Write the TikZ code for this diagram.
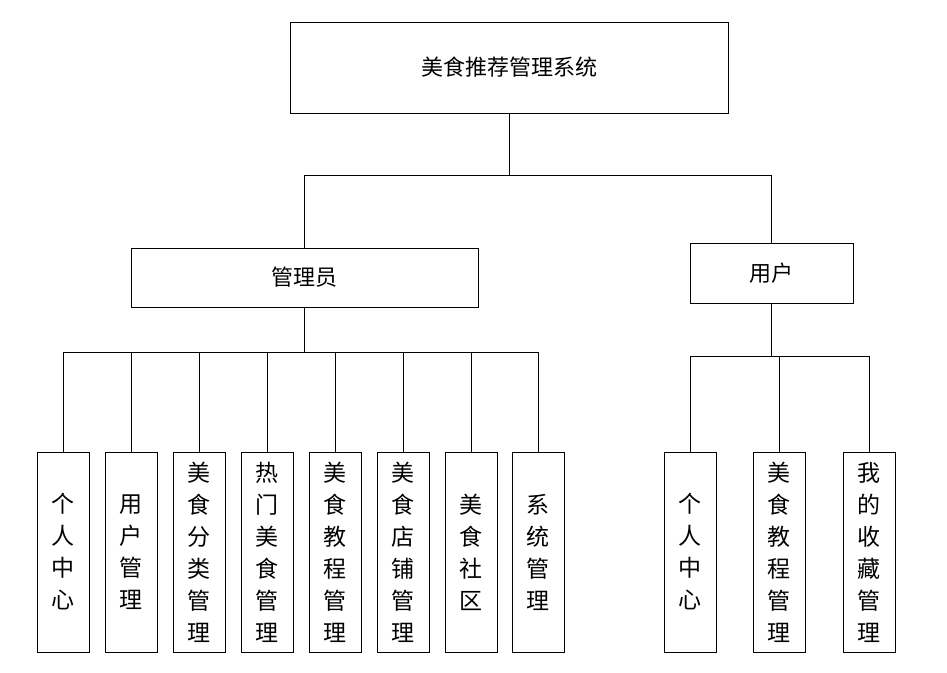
\documentclass[tikz,border=0pt]{standalone}
\usepackage{fontspec}
\setmainfont{Noto Sans CJK SC}
\usetikzlibrary{positioning}
\tikzset{
  box/.style={draw, thick, inner sep=0pt, font=\fontsize{22}{26}\selectfont},
  leaf/.style={box, minimum width=52pt, minimum height=200pt, align=center, font=\fontsize{23}{32}\selectfont},
  link/.style={thick}
}
\begin{document}
\begin{tikzpicture}[x=1pt,y=-1pt]
\useasboundingbox (0,0) rectangle (947,672);
% Top levels
\node[box, minimum width=438pt, minimum height=91pt] (root) at (509,67.5) {美食推荐管理系统};
\node[box, minimum width=347pt, minimum height=59pt] (admin) at (304.5,277.5) {管理员};
\node[box, minimum width=163pt, minimum height=60pt] (user) at (771.5,273) {用户};

% Leaves
\node[leaf] (a1) at (63,552) {个\\人\\中\\心};
\node[leaf] (a2) at (131,552) {用\\户\\管\\理};
\node[leaf] (a3) at (199,552) {美\\食\\分\\类\\管\\理};
\node[leaf] (a4) at (267,552) {热\\门\\美\\食\\管\\理};
\node[leaf] (a5) at (335,552) {美\\食\\教\\程\\管\\理};
\node[leaf] (a6) at (403,552) {美\\食\\店\\铺\\管\\理};
\node[leaf] (a7) at (471,552) {美\\食\\社\\区};
\node[leaf] (a8) at (538,552) {系\\统\\管\\理};
\node[leaf] (u1) at (690,552) {个\\人\\中\\心};
\node[leaf] (u2) at (779,552) {美\\食\\教\\程\\管\\理};
\node[leaf] (u3) at (869,552) {我\\的\\收\\藏\\管\\理};

% Connectors
\draw[link] (root.south) |- (admin.north |- 0,175) -- (admin.north);
\draw[link] (root.south) |- (user.north |- 0,175) -- (user.north);
\foreach \n in {a1,a2,a3,a4,a5,a6,a7,a8}
  \draw[link] (admin.south) |- (\n.north |- 0,352) -- (\n.north);
\foreach \n in {u1,u2,u3}
  \draw[link] (user.south) |- (\n.north |- 0,356) -- (\n.north);
\end{tikzpicture}
\end{document}
